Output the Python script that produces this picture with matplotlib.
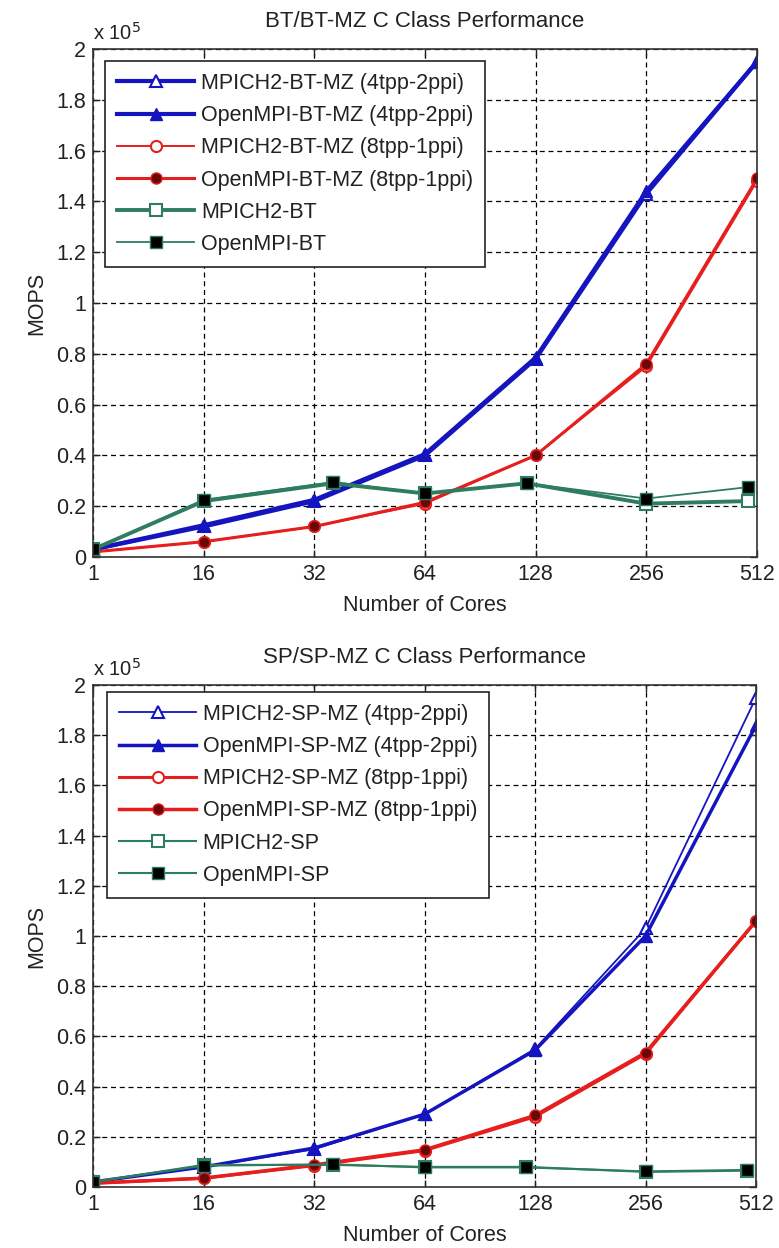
import numpy as np
import matplotlib
matplotlib.use('Agg')
import matplotlib.pyplot as plt

plt.rcParams['font.family'] = ['Liberation Sans', 'DejaVu Sans']

# ---------------- data (MOPS, in units of 1e5) ----------------
tick_cores = [1, 16, 32, 64, 128, 256, 512]
tick_labels = ['1', '16', '32', '64', '128', '256', '512']
mz_cores = [1, 16, 32, 64, 128, 256, 512]
sq_cores = [1, 16, 36, 64, 121, 256, 484]
y_ticks = [0, 0.2, 0.4, 0.6, 0.8, 1.0, 1.2, 1.4, 1.6, 1.8, 2.0]
y_tick_labels = ['0', '0.2', '0.4', '0.6', '0.8', '1', '1.2', '1.4', '1.6', '1.8', '2']

bt_mz_4_mpich = [0.03, 0.12, 0.22, 0.40, 0.78, 1.43, 1.95]
bt_mz_4_ompi = [0.03, 0.125, 0.225, 0.405, 0.785, 1.44, 1.95]
bt_mz_8_mpich = [0.02, 0.06, 0.12, 0.21, 0.40, 0.75, 1.48]
bt_mz_8_ompi = [0.02, 0.06, 0.12, 0.215, 0.40, 0.76, 1.49]
bt_mpich = [0.03, 0.22, 0.29, 0.25, 0.29, 0.21, 0.22]
bt_ompi = [0.03, 0.225, 0.295, 0.25, 0.29, 0.23, 0.275]

sp_mz_4_mpich = [0.02, 0.08, 0.15, 0.29, 0.55, 1.03, 1.95]
sp_mz_4_ompi = [0.02, 0.08, 0.155, 0.29, 0.545, 1.00, 1.84]
sp_mz_8_mpich = [0.015, 0.035, 0.085, 0.145, 0.28, 0.53, 1.06]
sp_mz_8_ompi = [0.015, 0.035, 0.088, 0.148, 0.285, 0.535, 1.06]
sp_mpich = [0.02, 0.088, 0.088, 0.08, 0.08, 0.06, 0.065]
sp_ompi = [0.02, 0.085, 0.09, 0.078, 0.078, 0.062, 0.068]

BLUE = '#1515c0'
RED = '#e61e1e'
DRED = '#6a0808'
GREEN = '#2f7d5f'
TXT = '#222222'


def xpos(cores):
    return np.interp(np.log2(cores), np.log2(tick_cores), np.arange(len(tick_cores)))


fig = plt.figure(figsize=(7.79, 12.48), dpi=100)
ax1 = fig.add_axes([0.1194, 0.5537, 0.8524, 0.4071])
ax2 = fig.add_axes([0.1194, 0.0489, 0.8511, 0.4022])


def style(ax, title):
    ax.set_xlim(0, len(tick_cores) - 1)
    ax.set_ylim(0, 2)
    ax.set_xticks(np.arange(len(tick_cores)))
    ax.set_xticklabels(tick_labels)
    ax.set_yticks(y_ticks)
    ax.set_yticklabels(y_tick_labels)
    ax.tick_params(direction='in', length=5, width=1, top=True, right=True,
                   labelsize=15.5, pad=5, colors=TXT)
    ax.grid(True, color='black', linestyle=(0, (4, 3)), linewidth=0.9)
    for s in ax.spines.values():
        s.set_linewidth(1.2)
        s.set_color('#333333')
    ax.set_xlabel('Number of Cores', fontsize=15.5, labelpad=7, color=TXT)
    ax.set_ylabel('MOPS', fontsize=15.5, labelpad=6, color=TXT)
    ax.set_title(title, fontsize=16, pad=16, color=TXT)
    ax.text(0.0, 1.01, 'x 10$^5$', transform=ax.transAxes, fontsize=14.5,
            ha='left', va='bottom', color=TXT)


# ---------------- top ----------------
x_mz = xpos(mz_cores)
x_sq = xpos(sq_cores)
ax1.plot(x_mz, bt_mz_4_mpich, '-^', color=BLUE, lw=3.0, ms=9, mfc='white', mec=BLUE, mew=1.5,
         label='MPICH2-BT-MZ (4tpp-2ppi)')
ax1.plot(x_mz, bt_mz_4_ompi, '-^', color=BLUE, lw=3.0, ms=9, mfc=BLUE, mec=BLUE,
         label='OpenMPI-BT-MZ (4tpp-2ppi)')
ax1.plot(x_mz, bt_mz_8_mpich, '-o', color=RED, lw=1.4, ms=8, mfc='white', mec=RED, mew=1.5,
         label='MPICH2-BT-MZ (8tpp-1ppi)')
ax1.plot(x_mz, bt_mz_8_ompi, '-o', color=RED, lw=2.2, ms=8, mfc=DRED, mec=RED,
         label='OpenMPI-BT-MZ (8tpp-1ppi)')
ax1.plot(x_sq, bt_mpich, '-s', color=GREEN, lw=2.8, ms=9, mfc='white', mec=GREEN, mew=1.5,
         label='MPICH2-BT')
ax1.plot(x_sq, bt_ompi, '-s', color=GREEN, lw=1.3, ms=9, mfc='black', mec=GREEN,
         label='OpenMPI-BT')
style(ax1, 'BT/BT-MZ C Class Performance')

# ---------------- bottom ----------------
ax2.plot(x_mz, sp_mz_4_mpich, '-^', color=BLUE, lw=1.3, ms=9, mfc='white', mec=BLUE, mew=1.5,
         label='MPICH2-SP-MZ (4tpp-2ppi)')
ax2.plot(x_mz, sp_mz_4_ompi, '-^', color=BLUE, lw=2.5, ms=9, mfc=BLUE, mec=BLUE,
         label='OpenMPI-SP-MZ (4tpp-2ppi)')
ax2.plot(x_mz, sp_mz_8_mpich, '-o', color=RED, lw=2.2, ms=8, mfc='white', mec=RED, mew=1.5,
         label='MPICH2-SP-MZ (8tpp-1ppi)')
ax2.plot(x_mz, sp_mz_8_ompi, '-o', color=RED, lw=2.5, ms=8, mfc=DRED, mec=RED,
         label='OpenMPI-SP-MZ (8tpp-1ppi)')
ax2.plot(x_sq, sp_mpich, '-s', color=GREEN, lw=1.5, ms=9, mfc='white', mec=GREEN, mew=1.5,
         label='MPICH2-SP')
ax2.plot(x_sq, sp_ompi, '-s', color=GREEN, lw=1.5, ms=9, mfc='black', mec=GREEN,
         label='OpenMPI-SP')
style(ax2, 'SP/SP-MZ C Class Performance')

for ax, anchor in ((ax1, (0.018, 0.976)), (ax2, (0.021, 0.986))):
    leg = ax.legend(loc='upper left', bbox_to_anchor=anchor, borderaxespad=0,
                    fontsize=15.5, handlelength=3.6, handletextpad=0.3,
                    labelspacing=0.52, borderpad=0.55, fancybox=False,
                    framealpha=1, edgecolor=TXT)
    leg.get_frame().set_linewidth(1.2)
    for t in leg.get_texts():
        t.set_color(TXT)

fig.savefig('out.png', dpi=100, facecolor='white')
